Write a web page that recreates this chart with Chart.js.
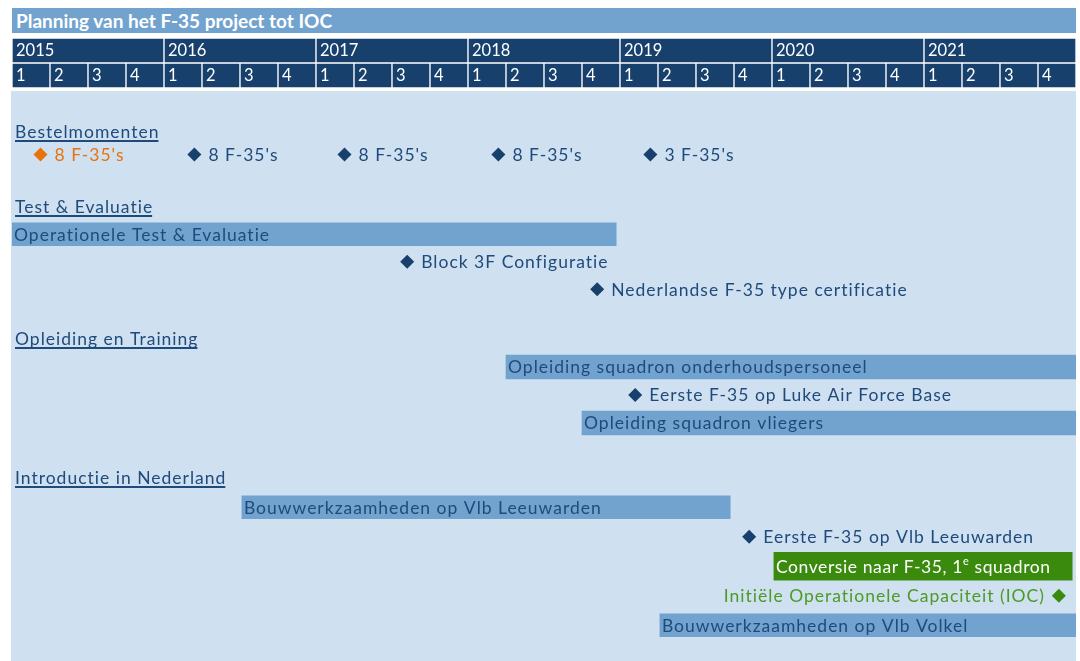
<!DOCTYPE html>
<html><head><meta charset="utf-8">
<script src="https://cdn.jsdelivr.net/npm/chart.js@4.4.1/dist/chart.umd.min.js"></script>
<style>
html,body{margin:0;padding:0;background:#fff;}
body{width:1080px;height:661px;overflow:hidden;position:relative;font-family:Lato,"Open Sans",sans-serif;}
#title{position:absolute;left:12px;top:8px;width:1064px;height:25px;background:#72a3cf;color:#fff;font:bold 19px Lato,sans-serif;line-height:25px;padding-left:4px;box-sizing:border-box;white-space:nowrap;}
#bodybg{position:absolute;left:11px;top:91px;width:1065px;height:570px;background:#cfe0f0;}
canvas{position:absolute;left:12px;}
</style></head><body>
<div id="title">Planning van het F-35 project tot IOC</div>
<div id="bodybg"></div>
<canvas id="hdr" width="1064" height="50" style="top:38px"></canvas>
<canvas id="s1" width="1064" height="46" style="top:120px"></canvas>
<canvas id="s2" width="1064" height="110" style="top:193px"></canvas>
<canvas id="s3" width="1064" height="112" style="top:325px"></canvas>
<canvas id="s4" width="1064" height="177" style="top:463px"></canvas>
<script>
// ---------- DATA (time unit: quarters since start of 2015) ----------
const years = ['2015','2016','2017','2018','2019','2020','2021'];
const quarterLabels = ['1','2','3','4'];

// Section 1: Bestelmomenten
const s1Rows = ['Bestelmomenten', 'orders'];
const orderLabels = ["8 F-35's", "8 F-35's", "8 F-35's", "8 F-35's", "3 F-35's"];
const orderTimes = [0.75, 4.8, 8.75, 12.8, 16.8];

// Section 2: Test & Evaluatie
const s2Rows = ['Test & Evaluatie', 'Operationele Test & Evaluatie', 'Block 3F Configuratie', 'Nederlandse F-35 type certificatie'];
const s2Tasks = ['Operationele Test & Evaluatie'];
const s2TaskStart = [0];
const s2TaskEnd = [15.9];
const s2Milestones = ['Block 3F Configuratie', 'Nederlandse F-35 type certificatie'];
const s2MilestoneTimes = [10.4, 15.4];

// Section 3: Opleiding en Training
const s3Rows = ['Opleiding en Training', 'Opleiding squadron onderhoudspersoneel', 'Eerste F-35 op Luke Air Force Base', 'Opleiding squadron vliegers'];
const s3Tasks = ['Opleiding squadron onderhoudspersoneel', 'Opleiding squadron vliegers'];
const s3TaskStart = [13.0, 15.0];
const s3TaskEnd = [28, 28];
const s3Milestones = ['Eerste F-35 op Luke Air Force Base'];
const s3MilestoneTimes = [16.4];

// Section 4: Introductie in Nederland
const s4Rows = ['Introductie in Nederland', 'Bouwwerkzaamheden op Vlb Leeuwarden', 'Eerste F-35 op Vlb Leeuwarden', 'Conversie naar F-35, 1^{e} squadron', 'Initiële Operationele Capaciteit (IOC)', 'Bouwwerkzaamheden op Vlb Volkel'];
const s4Tasks = ['Bouwwerkzaamheden op Vlb Leeuwarden', 'Bouwwerkzaamheden op Vlb Volkel'];
const s4TaskStart = [6.05, 17.05];
const s4TaskEnd = [18.9, 28];
const s4Milestones = ['Eerste F-35 op Vlb Leeuwarden'];
const s4MilestoneTimes = [19.4];
const s4KeyTasks = ['Conversie naar F-35, 1^{e} squadron'];
const s4KeyTaskStart = [20.05];
const s4KeyTaskEnd = [27.9];
const s4KeyMilestones = ['Initiële Operationele Capaciteit (IOC)'];
const s4KeyMilestoneTimes = [27.55];

// ---------- STYLE ----------
const NAVY = '#17406d', BAR = '#72a3cf', TEXT = '#1f4a7c', ORANGE = '#e8720c',
      GREEN_BAR = '#3a8a0e', GREEN_TEXT = '#4d9a24';
const FONT = 'Lato';
const BODY_SIZE = 17.5, SPACING = 1.0;

function drawRich(ctx, text, x, y, align, size, weight, color, spacing) {
  const parts = text.split(/\^\{(.*?)\}/);
  const segs = parts.map((t, i) => ({ t, sup: i % 2 === 1 })).filter(s => s.t.length);
  const setFont = s => {
    ctx.font = weight + ' ' + (s.sup ? Math.round(size * 0.6) : size) + 'px ' + FONT;
    if ('letterSpacing' in ctx) ctx.letterSpacing = spacing + 'px';
  };
  let total = 0;
  segs.forEach(s => { setFont(s); s.w = ctx.measureText(s.t).width; total += s.w; });
  let cx = align === 'right' ? x - total : x;
  const base = y + size * 0.36;
  ctx.fillStyle = color;
  ctx.textAlign = 'left';
  ctx.textBaseline = 'alphabetic';
  segs.forEach(s => {
    setFont(s);
    ctx.fillText(s.t, cx, s.sup ? base - size * 0.42 : base);
    cx += s.w;
  });
  return { x0: align === 'right' ? x - total : x, w: total, base };
}

const ganttText = {
  id: 'ganttText',
  afterDatasetsDraw(chart, args, opts) {
    const ctx = chart.ctx;
    ctx.save();
    chart.data.datasets.forEach((ds, i) => {
      if (!ds.textLabels) return;
      const meta = chart.getDatasetMeta(i);
      meta.data.forEach((el, j) => {
        const txt = ds.textLabels[j];
        if (!txt) return;
        const color = Array.isArray(ds.textColor) ? ds.textColor[j] : ds.textColor;
        let x;
        if (meta.type === 'bar') x = Math.min(el.x, el.base) + ds.textPad;
        else x = ds.textSide === 'left' ? el.x - ds.textPad : el.x + ds.textPad;
        drawRich(ctx, txt, x, el.y, ds.textSide === 'left' ? 'right' : 'left',
          ds.textSize || BODY_SIZE, ds.textWeight || 'normal', color,
          ds.textSpacing !== undefined ? ds.textSpacing : SPACING);
      });
    });
    if (opts && opts.heading) {
      const xs = chart.scales.x, ys = chart.scales.y;
      const r = drawRich(ctx, opts.heading, xs.getPixelForValue(0) + 3, ys.getPixelForValue(0),
        'left', BODY_SIZE, 'normal', TEXT, SPACING);
      ctx.fillStyle = TEXT;
      ctx.fillRect(r.x0, Math.round(r.base + 2), r.w - SPACING, 2);
    }
    ctx.restore();
  }
};

const baseOptions = () => ({
  responsive: false, animation: false, devicePixelRatio: 1, events: [],
  indexAxis: 'y',
  layout: { padding: 0, autoPadding: false },
  scales: {
    x: { type: 'linear', min: 0, max: 28, display: false },
    y: { type: 'category', display: false, offset: true }
  },
  plugins: { legend: { display: false }, tooltip: { enabled: false } }
});

function makeChart(id, rows, datasets, heading) {
  const options = baseOptions();
  options.plugins.ganttText = { heading };
  return new Chart(document.getElementById(id), {
    type: 'bar',
    data: { labels: rows, datasets },
    options,
    plugins: [ganttText]
  });
}

function taskBars(names, starts, ends, color, thickness, textColor, spacing) {
  return {
    type: 'bar', grouped: false,
    data: names.map((n, i) => ({ y: n, x: [starts[i], ends[i]] })),
    backgroundColor: color, borderWidth: 0, barThickness: thickness,
    textLabels: names, textColor, textPad: 2, textSpacing: spacing
  };
}
function milestones(rowNames, times, color, textColor, side, labels) {
  return {
    type: 'line', showLine: false,
    data: rowNames.map((n, i) => ({ y: n, x: times[i] })),
    pointStyle: 'rectRot', pointRadius: 7, pointBackgroundColor: color, pointBorderWidth: 0,
    textLabels: labels || rowNames, textColor, textPad: 14, textSide: side || 'right'
  };
}

// ---------- HEADER (years / quarters) ----------
const hdrRows = ['years', 'quarters'];
const quarterNames = [];
const quarterBars = [];
years.forEach((y, yi) => quarterLabels.forEach((q, qi) => {
  quarterNames.push(q);
  quarterBars.push({ y: 'quarters', x: [yi * 4 + qi, yi * 4 + qi + 1] });
}));
new Chart(document.getElementById('hdr'), {
  type: 'bar',
  data: {
    labels: hdrRows,
    datasets: [
      { grouped: false, data: years.map((y, i) => ({ y: 'years', x: [i * 4, i * 4 + 4] })),
        backgroundColor: NAVY, borderColor: '#ffffff', borderWidth: 1, borderSkipped: false,
        barPercentage: 1, categoryPercentage: 1,
        textLabels: years, textColor: '#ffffff', textPad: 4, textSize: 16.5, textSpacing: 0 },
      { grouped: false, data: quarterBars,
        backgroundColor: NAVY, borderColor: '#ffffff', borderWidth: 1, borderSkipped: false,
        barPercentage: 1, categoryPercentage: 1,
        textLabels: quarterNames, textColor: '#ffffff', textPad: 4, textSize: 16.5, textSpacing: 0 }
    ]
  },
  options: baseOptions(),
  plugins: [ganttText]
});

// ---------- SECTIONS ----------
makeChart('s1', s1Rows, [
  milestones(orderLabels.map(() => 'orders'), orderTimes,
    orderTimes.map((_, i) => i === 0 ? ORANGE : NAVY),
    orderTimes.map((_, i) => i === 0 ? ORANGE : TEXT), 'right', orderLabels)
], 'Bestelmomenten');

makeChart('s2', s2Rows, [
  taskBars(s2Tasks, s2TaskStart, s2TaskEnd, BAR, 23, TEXT),
  milestones(s2Milestones, s2MilestoneTimes, NAVY, TEXT)
], 'Test & Evaluatie');

makeChart('s3', s3Rows, [
  taskBars(s3Tasks, s3TaskStart, s3TaskEnd, BAR, 24, TEXT),
  milestones(s3Milestones, s3MilestoneTimes, NAVY, TEXT)
], 'Opleiding en Training');

makeChart('s4', s4Rows, [
  taskBars(s4Tasks, s4TaskStart, s4TaskEnd, BAR, 23, TEXT),
  taskBars(s4KeyTasks, s4KeyTaskStart, s4KeyTaskEnd, GREEN_BAR, 28, '#ffffff', 0.6),
  milestones(s4Milestones, s4MilestoneTimes, NAVY, TEXT),
  milestones(s4KeyMilestones, s4KeyMilestoneTimes, GREEN_BAR, GREEN_TEXT, 'left')
], 'Introductie in Nederland');
</script>
</body></html>
